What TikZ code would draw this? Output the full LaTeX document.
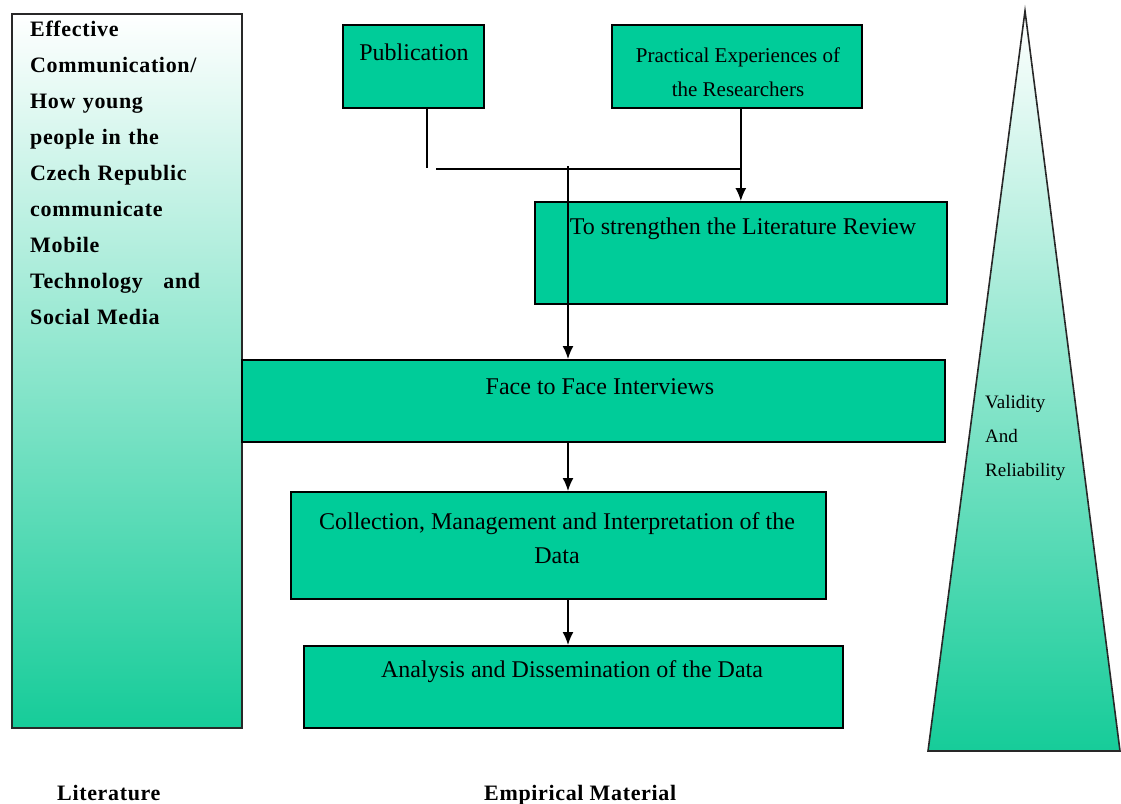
\documentclass[tikz,border=0pt]{standalone}
\usepackage{fontspec}
\setmainfont{Liberation Serif}
\newfontfamily\spacedserif[LetterSpace=3]{Liberation Serif}
\usetikzlibrary{arrows.meta}
\definecolor{boxgreen}{RGB}{0,204,153}
\definecolor{shadegreen}{RGB}{22,204,153}
\definecolor{edgegray}{RGB}{40,40,40}
\tikzset{
  gbox/.style={draw=black, line width=1.6pt, fill=boxgreen, inner sep=0pt, anchor=north west},
  txt/.style={inner sep=0pt, font=\fontsize{24}{34}\selectfont, align=center},
  conn/.style={draw=black, line width=1.5pt},
  arr/.style={conn, -{Latex[length=13pt,width=11pt]}},
  boldtxt/.style={inner sep=0pt, font=\spacedserif\fontsize{22}{36}\selectfont\bfseries}
}
\begin{document}
\begin{tikzpicture}[x=1pt,y=-1pt]
\useasboundingbox (0,0) rectangle (1121,803);
% left literature column
\node[draw=edgegray, line width=1.8pt, inner sep=0pt, anchor=north west,
      minimum width=230pt, minimum height=714pt,
      top color=white, bottom color=shadegreen] (lit) at (11,13) {};
\node[boldtxt, anchor=north west, text width=170pt, align=left] (littxt) at (30,21)
 {Effective\\Communication/\\How young\\people in the\\Czech Republic\\communicate\\Mobile\\Technology \hfill and\\Social Media};
% triangle
\path[draw=edgegray, line width=1.6pt, top color=white, bottom color=shadegreen]
  (1025,11) -- (1120,751) -- (928,751) -- cycle;
\node[inner sep=0pt, anchor=north west, align=left, font=\fontsize{19}{34}\selectfont] (valtxt) at (985,395)
 {Validity\\And\\Reliability};
% boxes
\node[gbox, minimum width=141pt, minimum height=83pt] (pub) at (342,24) {};
\node[txt] (pubt) at (414,52) {Publication};
\node[gbox, minimum width=250pt, minimum height=83pt] (prac) at (611,24) {};
\node[txt, font=\fontsize{21}{34}\selectfont] (pract) at (738,72) {Practical Experiences of\\the Researchers};
\node[gbox, minimum width=412pt, minimum height=102pt] (rev) at (534,201) {};
\node[txt] (revt) at (743,229) {To strengthen the Literature Review};
\node[gbox, minimum width=703pt, minimum height=82pt] (face) at (241,359) {};
\node[txt] (facet) at (600,387) {Face to Face Interviews};
\node[gbox, minimum width=535pt, minimum height=107pt] (coll) at (290,491) {};
\node[txt] (collt) at (557,538) {Collection, Management and Interpretation of the\\Data};
\node[gbox, minimum width=539pt, minimum height=82pt] (ana) at (303,645) {};
\node[txt] (anat) at (572,672) {Analysis and Dissemination of the Data};
% connectors
\coordinate (pubend) at (427,168);
\coordinate (hl) at (436,169);
\coordinate (vtop) at (568,166);
\draw[conn] (pubend |- pub.south) -- (pubend);
\draw[conn] (hl) -- (hl -| rev.north);
\draw[arr] (rev.north |- prac.south) -- (rev.north);
\draw[arr] (vtop) -- (vtop |- face.north);
\draw[arr] (vtop |- face.south) -- (vtop |- coll.north);
\draw[arr] (vtop |- coll.south) -- (vtop |- ana.north);
% bottom labels
\node[boldtxt, anchor=base west] (litlab) at (57,800) {Literature};
\node[boldtxt, anchor=base west] (emplab) at (484,800) {Empirical Material};
\end{tikzpicture}
\end{document}
